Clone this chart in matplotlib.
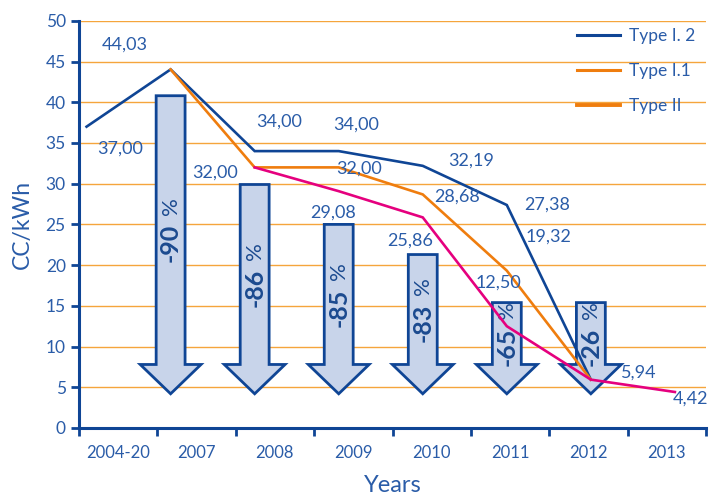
import matplotlib
matplotlib.use('Agg')
import matplotlib.pyplot as plt
from matplotlib.patches import Polygon
from matplotlib.lines import Line2D
from matplotlib import font_manager
import numpy as np

# ---------------- data ----------------
categories = ['2004-20', '2007', '2008', '2009', '2010', '2011', '2012', '2013']
type_i2 = [37.00, 44.03, 34.00, 34.00, 32.19, 27.38, 5.94, np.nan]
type_i1 = [np.nan, 44.03, 32.00, 32.00, 28.68, 19.32, 5.94, np.nan]
type_ii = [np.nan, np.nan, 32.00, 29.08, 25.86, 12.50, 5.94, 4.42]
series_names = ['Type I. 2', 'Type I.1', 'Type II']
reduction_values = ['-90', '-86', '-85', '-83', '-65', '-26']
arrow_tops = [40.8, 29.9, 25.0, 21.3, 15.4, 15.4]
yticks = list(range(0, 51, 5))

# which value is labelled (series, index) and where the label sits
label_refs = [(type_i2, 0), (type_i2, 1), (type_i2, 2), (type_i2, 3),
              (type_i1, 2), (type_i1, 3), (type_ii, 3), (type_i2, 4),
              (type_i1, 4), (type_ii, 4), (type_i2, 5), (type_i1, 5),
              (type_ii, 5), (type_ii, 6), (type_ii, 7)]
label_x = [0.40, 0.46, 2.29, 3.21, 1.53, 3.24, 2.93, 4.57, 4.41, 3.85,
           5.48, 5.50, 4.90, 6.57, 7.19]
label_y = [34.3, 47.05, 37.6, 37.2, 31.3, 31.8, 26.4, 32.8, 28.4, 23.0,
           27.4, 23.5, 17.9, 6.8, 3.6]

# ---------------- style ----------------
names = {f.name for f in font_manager.fontManager.ttflist}
FONT = 'Lato' if 'Lato' in names else 'DejaVu Sans'
plt.rcParams['font.family'] = [FONT, 'DejaVu Sans']

BLUE = '#0f4595'
ORANGE = '#ef7d0e'
PINK = '#e5007e'
GRID = '#f5a53c'
TXT = '#2a5ca8'
ARROW_TXT = '#1b4a8f'
ARROW_FILL = '#c8d4ea'

fig = plt.figure(figsize=(7.11, 4.95), dpi=100)
ax = fig.add_axes([79 / 711, 67 / 495, 627 / 711, 407.2 / 495])
ax.set_xlim(-0.5, 7.5)
ax.set_ylim(0, 50)

for s in ['top', 'right']:
    ax.spines[s].set_visible(False)
for s in ['left', 'bottom']:
    ax.spines[s].set_color(BLUE)
    ax.spines[s].set_linewidth(2.2)

ax.set_yticks(yticks)
ax.tick_params(axis='y', direction='out', length=5.5, width=2, color=BLUE,
               labelcolor=TXT, labelsize=12.5, pad=4)

ax.set_xticks(np.arange(-0.5, 8, 1))
ax.set_xticklabels([])
ax.tick_params(axis='x', which='major', direction='out', length=6, width=2, color=BLUE)
ax.set_xticks(range(len(categories)), minor=True)
ax.set_xticklabels(categories, minor=True)
ax.tick_params(axis='x', which='minor', length=0, pad=12, labelcolor=TXT, labelsize=12)

ax.set_axisbelow(True)
ax.yaxis.grid(True, color=GRID, lw=1)

ax.set_ylabel('CC/kWh', fontsize=16.5, color=TXT, va='center')
ax.yaxis.set_label_coords(-0.091, 0.5)
ax.set_xlabel('Years', fontsize=17, color=TXT, va='center')
ax.xaxis.set_label_coords(0.5008, -0.14)

# overlay axis for lines/arrows (offset positions as in original)
ax2 = ax.twiny()
ax2.set_xlim(-0.09, 7.37)
ax2.set_ylim(0, 50)
ax2.axis('off')

# arrows
tip = 4.2
head_len = 3.6
half_shaft = 0.172
half_head = 0.362
for i, (top, num) in enumerate(zip(arrow_tops, reduction_values)):
    c = i + 1
    hb = tip + head_len
    verts = [(c - half_shaft, top), (c + half_shaft, top), (c + half_shaft, hb),
             (c + half_head, hb), (c, tip), (c - half_head, hb), (c - half_shaft, hb)]
    ax2.add_patch(Polygon(verts, closed=True, facecolor=ARROW_FILL, edgecolor=BLUE,
                          lw=2, joinstyle='miter', zorder=3))
    mid = (top + hb) / 2
    ax2.annotate(num, xy=(c, mid), xytext=(0, -9.5), textcoords='offset points',
                 rotation=90, ha='center', va='center', fontsize=18,
                 fontweight='bold', color=ARROW_TXT, zorder=4)
    ax2.annotate('%', xy=(c, mid), xytext=(0, 17), textcoords='offset points',
                 rotation=90, ha='center', va='center', fontsize=16,
                 color=ARROW_TXT, zorder=4)

xs = np.arange(len(categories))
ax2.plot(xs, type_i2, color=BLUE, lw=1.9, zorder=6, solid_joinstyle='miter')
ax2.plot(xs, type_i1, color=ORANGE, lw=1.9, zorder=6, solid_joinstyle='miter')
ax2.plot(xs, type_ii, color=PINK, lw=1.9, zorder=6, solid_joinstyle='miter')

for (ser, idx), lx, ly in zip(label_refs, label_x, label_y):
    ax2.text(lx, ly, f"{ser[idx]:.2f}".replace('.', ','), ha='center', va='center',
             fontsize=13, color=TXT, zorder=7)

handles = [Line2D([], [], color=BLUE, lw=2.2),
           Line2D([], [], color=ORANGE, lw=2.2),
           Line2D([], [], color=ORANGE, lw=2.8)]
fig.legend(handles, series_names, loc='upper left', bbox_to_anchor=(577 / 711, 1 - 28 / 495),
           frameon=False, borderpad=0, borderaxespad=0, handlelength=2.5,
           handletextpad=0.5, labelspacing=1.1,
           prop={'size': 12.5}, labelcolor=TXT)

fig.savefig('out.png', dpi=100)
